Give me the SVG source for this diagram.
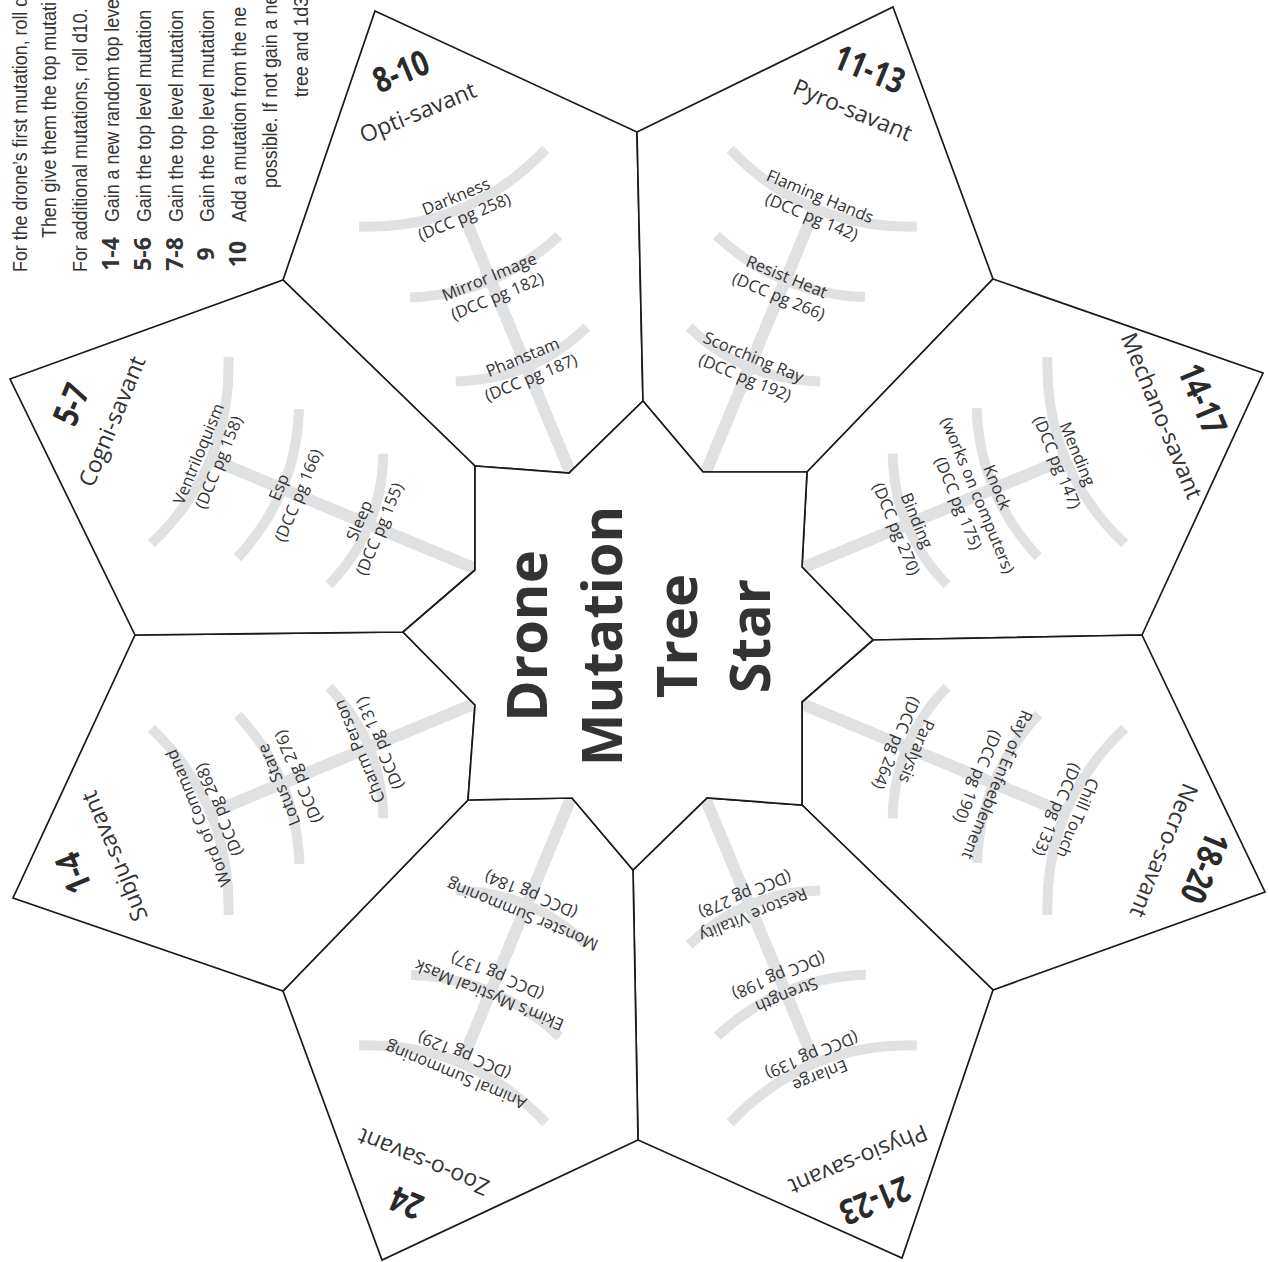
<svg xmlns="http://www.w3.org/2000/svg" xmlns:xlink="http://www.w3.org/1999/xlink" width="1268" height="1262" viewBox="0 0 1268 1262">
<style>
.pf{fill:#ffffff;stroke:none}
.pe{fill:none;stroke:#1a1a1a;stroke-width:1.7;stroke-linejoin:miter}
.tr{fill:none;stroke:#e0e1e3;stroke-width:12}
.br{fill:none;stroke:#e0e1e3;stroke-width:10}
.lb{font-family:"Open Sans","Noto Sans",sans-serif;font-size:16.5px;fill:#333333;text-anchor:middle}
.num{font-family:"Open Sans","Noto Sans",sans-serif;font-weight:700;font-size:35px;fill:#2a2a2a;text-anchor:middle}
.sv{font-family:"Open Sans","Noto Sans",sans-serif;font-size:23px;fill:#333333;text-anchor:middle}
.title{font-family:"Open Sans","Noto Sans",sans-serif;font-weight:700;font-size:56px;fill:#333333;text-anchor:middle}
.ins{font-family:"Liberation Sans",Arial,sans-serif;font-size:21px;fill:#333333}
.insb{font-family:"Open Sans","Liberation Sans",sans-serif;font-weight:700;font-size:23px;fill:#333333;text-anchor:middle}
</style>
<defs>
  <polygon id="p-opti" points="375,11 637,132 643,401 569,473 475,466 283,280"/>
  <polygon id="p-pyro" points="893,7 993,279 807,472 703,472 643,401 637,132"/>
  <polygon id="p-mechano" points="993,279 1263,373 1142,635 873,640 802,567 807,472"/>
  <polygon id="p-necro" points="1142,635 1265,892 993,990 802,805 802,702 873,640"/>
  <polygon id="p-physio" points="802,805 993,990 902,1258 638,1140 633,870 707,798"/>
  <polygon id="p-zoo" points="468,800 572,798 633,870 638,1140 382,1260 283,991"/>
  <polygon id="p-subju" points="135,635 403,632 475,705 468,800 283,991 13,898"/>
  <polygon id="p-cogni" points="10,379 283,280 475,466 475,570 403,632 135,635"/>
  <polygon id="p-center" points="475,466 569,473 643,401 703,472 807,472 802,567 873,640 802,702 802,805 707,798 633,870 572,798 468,800 475,705 403,632 475,570"/>
  <clipPath id="c-opti"><use href="#p-opti"/></clipPath>
  <clipPath id="c-pyro"><use href="#p-pyro"/></clipPath>
  <clipPath id="c-mechano"><use href="#p-mechano"/></clipPath>
  <clipPath id="c-necro"><use href="#p-necro"/></clipPath>
  <clipPath id="c-physio"><use href="#p-physio"/></clipPath>
  <clipPath id="c-zoo"><use href="#p-zoo"/></clipPath>
  <clipPath id="c-subju"><use href="#p-subju"/></clipPath>
  <clipPath id="c-cogni"><use href="#p-cogni"/></clipPath>
  <g id="tree">
    <path class="tr" d="M0,-140 L0,-463"/>
    <path class="br" d="M-101,-485 Q0,-440 101,-485"/>
    <path class="br" d="M-81,-400 Q0,-370 80,-400"/>
    <path class="br" d="M-71,-305 Q0,-277 71,-305"/>
  </g>
</defs>

<rect width="1268" height="1262" fill="#ffffff"/>

<g id="instructions">
  <text class="ins" transform="translate(27,272) rotate(-90) scale(0.85,1)">For the drone’s first mutation, roll d</text>
  <text class="ins" transform="translate(56,238) rotate(-90) scale(0.85,1)">Then give them the top mutati</text>
  <text class="ins" transform="translate(87,272) rotate(-90) scale(0.85,1)">For additional mutations, roll d10.</text>
  <text class="insb" transform="translate(119,254) rotate(-90)">1-4</text>
  <text class="ins" transform="translate(119,222) rotate(-90) scale(0.85,1)">Gain a new random top leve</text>
  <text class="insb" transform="translate(151,254) rotate(-90)">5-6</text>
  <text class="ins" transform="translate(151,222) rotate(-90) scale(0.85,1)">Gain the top level mutation</text>
  <text class="insb" transform="translate(183,254) rotate(-90)">7-8</text>
  <text class="ins" transform="translate(183,222) rotate(-90) scale(0.85,1)">Gain the top level mutation</text>
  <text class="insb" transform="translate(214,254) rotate(-90)">9</text>
  <text class="ins" transform="translate(214,222) rotate(-90) scale(0.85,1)">Gain the top level mutation</text>
  <text class="insb" transform="translate(246,254) rotate(-90)">10</text>
  <text class="ins" transform="translate(246,222) rotate(-90) scale(0.85,1)">Add a mutation from the ne</text>
  <text class="ins" transform="translate(277,188) rotate(-90) scale(0.85,1)">possible. If not gain a ne</text>
  <text class="ins" transform="translate(308,97) rotate(-90) scale(0.85,1)">tree and 1d3</text>
</g>

<g id="opti">
  <use href="#p-opti" class="pf"/>
  <g clip-path="url(#c-opti)"><use href="#tree" transform="translate(638,636) rotate(-22.5)"/></g>
  <use href="#p-opti" class="pe"/>
  <g transform="translate(638,636) rotate(-22.5)">
    <text class="num" transform="translate(-3,-600) scale(0.8,1)">8-10</text>
    <text class="sv" x="-3" y="-560">Opti-savant</text>
    <text class="lb" x="0" y="-470">Darkness</text>
    <text class="lb" x="0" y="-448">(DCC pg 258)</text>
    <text class="lb" x="0" y="-383">Mirror Image</text>
    <text class="lb" x="0" y="-362">(DCC pg 182)</text>
    <text class="lb" x="0" y="-296">Phanstam</text>
    <text class="lb" x="0" y="-274">(DCC pg 187)</text>
  </g>
</g>

<g id="pyro">
  <use href="#p-pyro" class="pf"/>
  <g clip-path="url(#c-pyro)"><use href="#tree" transform="translate(638,636) rotate(22.5)"/></g>
  <use href="#p-pyro" class="pe"/>
  <g transform="translate(638,636) rotate(22.5)">
    <text class="num" transform="translate(-3,-600) scale(0.8,1)">11-13</text>
    <text class="sv" x="-3" y="-560">Pyro-savant</text>
    <text class="lb" x="0" y="-470">Flaming Hands</text>
    <text class="lb" x="0" y="-448">(DCC pg 142)</text>
    <text class="lb" x="0" y="-383">Resist Heat</text>
    <text class="lb" x="0" y="-362">(DCC pg 266)</text>
    <text class="lb" x="0" y="-296">Scorching Ray</text>
    <text class="lb" x="0" y="-274">(DCC pg 192)</text>
  </g>
</g>

<g id="mechano">
  <use href="#p-mechano" class="pf"/>
  <g clip-path="url(#c-mechano)"><use href="#tree" transform="translate(638,636) rotate(67.5)"/></g>
  <use href="#p-mechano" class="pe"/>
  <g transform="translate(638,636) rotate(67.5)">
    <text class="num" transform="translate(-3,-600) scale(0.8,1)">14-17</text>
    <text class="sv" x="-3" y="-560">Mechano-savant</text>
    <text class="lb" x="0" y="-470">Mending</text>
    <text class="lb" x="0" y="-448">(DCC pg 147)</text>
    <text class="lb" x="0" y="-383">Knock</text>
    <text class="lb" x="0" y="-362">(works on computers)</text>
    <text class="lb" x="0" y="-341">(DCC pg 175)</text>
    <text class="lb" x="0" y="-296">Binding</text>
    <text class="lb" x="0" y="-274">(DCC pg 270)</text>
  </g>
</g>

<g id="necro">
  <use href="#p-necro" class="pf"/>
  <g clip-path="url(#c-necro)"><use href="#tree" transform="translate(638,636) rotate(112.5)"/></g>
  <use href="#p-necro" class="pe"/>
  <g transform="translate(638,636) rotate(112.5)">
    <text class="num" transform="translate(-3,-600) scale(0.8,1)">18-20</text>
    <text class="sv" x="-3" y="-560">Necro-savant</text>
    <text class="lb" x="0" y="-470">Chill Touch</text>
    <text class="lb" x="0" y="-448">(DCC pg 133)</text>
    <text class="lb" x="0" y="-383">Ray of Enfeeblement</text>
    <text class="lb" x="0" y="-362">(DCC pg 190)</text>
    <text class="lb" x="0" y="-296">Paralysis</text>
    <text class="lb" x="0" y="-274">(DCC pg 264)</text>
  </g>
</g>

<g id="physio">
  <use href="#p-physio" class="pf"/>
  <g clip-path="url(#c-physio)"><use href="#tree" transform="translate(638,636) rotate(157.5)"/></g>
  <use href="#p-physio" class="pe"/>
  <g transform="translate(638,636) rotate(157.5)">
    <text class="num" transform="translate(-3,-600) scale(0.8,1)">21-23</text>
    <text class="sv" x="-3" y="-560">Physio-savant</text>
    <text class="lb" x="0" y="-470">Enlarge</text>
    <text class="lb" x="0" y="-448">(DCC pg 139)</text>
    <text class="lb" x="0" y="-383">Strength</text>
    <text class="lb" x="0" y="-362">(DCC pg 198)</text>
    <text class="lb" x="0" y="-296">Restore Vitality</text>
    <text class="lb" x="0" y="-274">(DCC pg 278)</text>
  </g>
</g>

<g id="zoo">
  <use href="#p-zoo" class="pf"/>
  <g clip-path="url(#c-zoo)"><use href="#tree" transform="translate(638,636) rotate(-157.5)"/></g>
  <use href="#p-zoo" class="pe"/>
  <g transform="translate(638,636) rotate(-157.5)">
    <text class="num" transform="translate(-3,-600) scale(0.8,1)">24</text>
    <text class="sv" x="-3" y="-560">Zoo-o-savant</text>
    <text class="lb" x="0" y="-470">Animal Summoning</text>
    <text class="lb" x="0" y="-448">(DCC pg 129)</text>
    <text class="lb" x="0" y="-383">Ekim’s Mystical Mask</text>
    <text class="lb" x="0" y="-362">(DCC pg 137)</text>
    <text class="lb" x="0" y="-296">Monster Summoning</text>
    <text class="lb" x="0" y="-274">(DCC pg 184)</text>
  </g>
</g>

<g id="subju">
  <use href="#p-subju" class="pf"/>
  <g clip-path="url(#c-subju)"><use href="#tree" transform="translate(638,636) rotate(-112.5)"/></g>
  <use href="#p-subju" class="pe"/>
  <g transform="translate(638,636) rotate(-112.5)">
    <text class="num" transform="translate(-3,-600) scale(0.8,1)">1-4</text>
    <text class="sv" x="-3" y="-560">Subju-savant</text>
    <text class="lb" x="0" y="-470">Word of Command</text>
    <text class="lb" x="0" y="-448">(DCC pg 268)</text>
    <text class="lb" x="0" y="-383">Lotus Stare</text>
    <text class="lb" x="0" y="-362">(DCC pg 276)</text>
    <text class="lb" x="0" y="-296">Charm Person</text>
    <text class="lb" x="0" y="-274">(DCC pg 131)</text>
  </g>
</g>

<g id="cogni">
  <use href="#p-cogni" class="pf"/>
  <g clip-path="url(#c-cogni)"><use href="#tree" transform="translate(638,636) rotate(-67.5)"/></g>
  <use href="#p-cogni" class="pe"/>
  <g transform="translate(638,636) rotate(-67.5)">
    <text class="num" transform="translate(-3,-600) scale(0.8,1)">5-7</text>
    <text class="sv" x="-3" y="-560">Cogni-savant</text>
    <text class="lb" x="0" y="-470">Ventriloquism</text>
    <text class="lb" x="0" y="-448">(DCC pg 158)</text>
    <text class="lb" x="0" y="-383">Esp</text>
    <text class="lb" x="0" y="-362">(DCC pg 166)</text>
    <text class="lb" x="0" y="-296">Sleep</text>
    <text class="lb" x="0" y="-274">(DCC pg 155)</text>
  </g>
</g>

<g id="center">
  <use href="#p-center" class="pf"/>
  <use href="#p-center" class="pe"/>
  <text class="title" transform="translate(547,636) rotate(-90)">Drone</text>
  <text class="title" transform="translate(622,636) rotate(-90)">Mutation</text>
  <text class="title" transform="translate(697,636) rotate(-90)">Tree</text>
  <text class="title" transform="translate(770,636) rotate(-90)">Star</text>
</g>

<g id="connectors"></g>
</svg>
